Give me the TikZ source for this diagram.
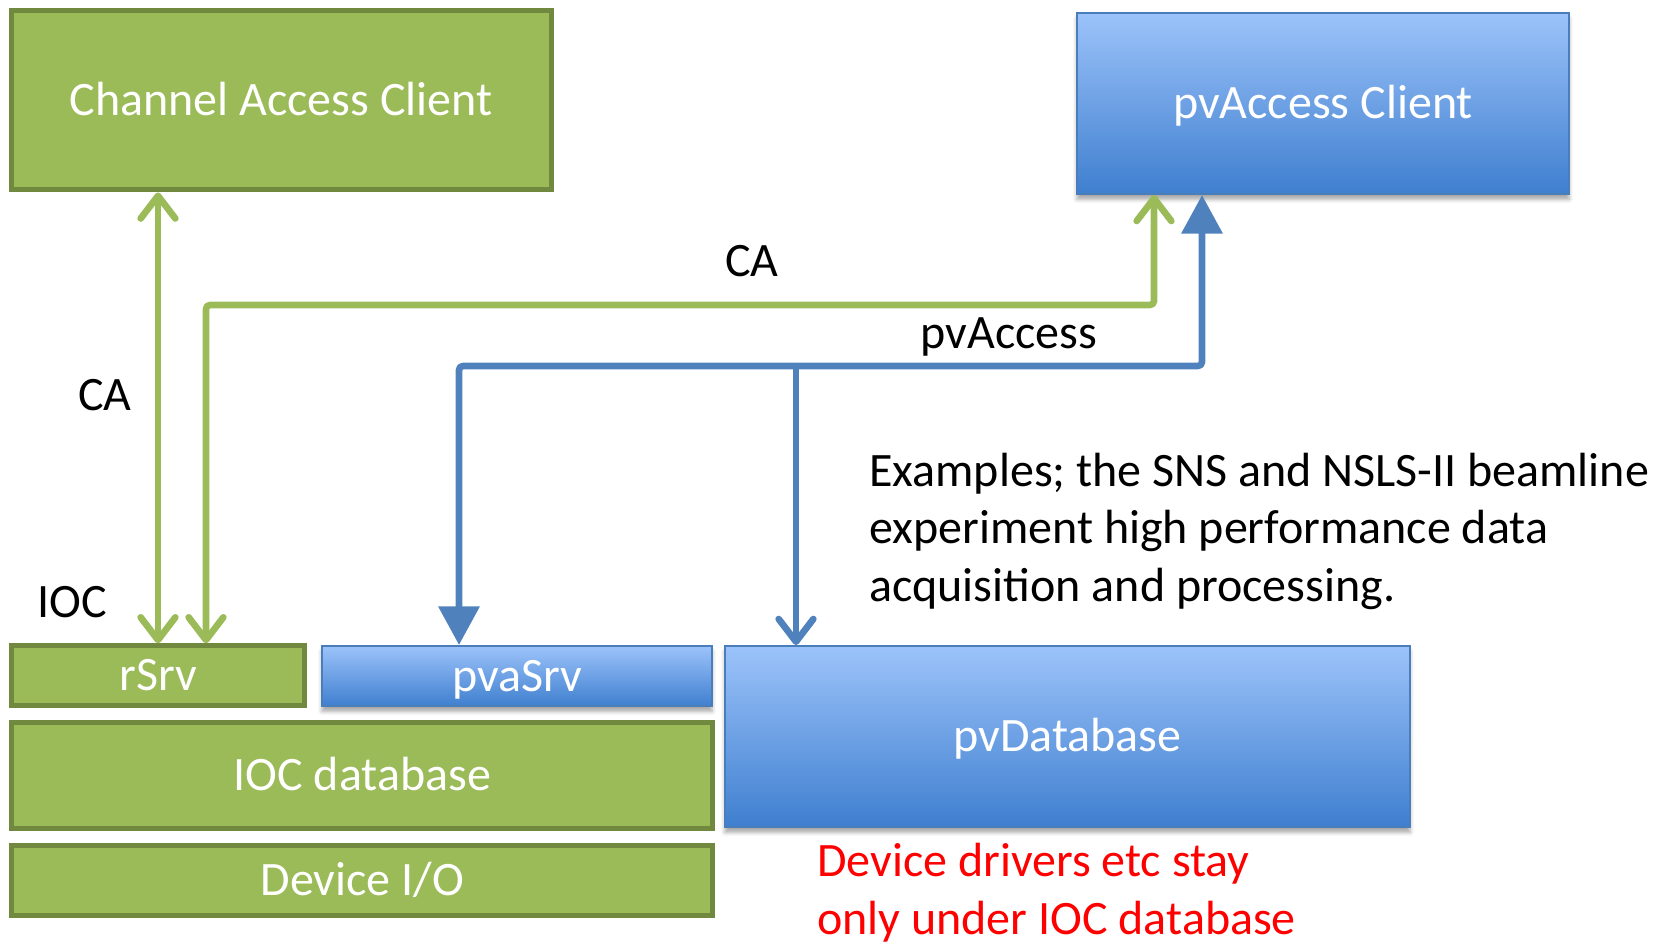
\documentclass[tikz,border=0pt]{standalone}
\usepackage{fontspec}
\setmainfont{Carlito}
\usetikzlibrary{arrows.meta,shadows.blur,calc}
\definecolor{gfill}{HTML}{9BBB59}
\definecolor{gedge}{HTML}{71893F}
\definecolor{btop}{HTML}{9CC3FA}
\definecolor{bbot}{HTML}{3F7FCF}
\definecolor{bedge}{HTML}{4A7EBB}
\definecolor{barrow}{HTML}{4F81BD}
\begin{document}
\begin{tikzpicture}[x=0.75pt,y=-0.75pt,
  every node/.style={font=\fontsize{36}{43}\selectfont, inner sep=0pt},
  boxtext/.style={text=white, inner sep=0pt, text height=23.2pt, text depth=0pt},
  gbox/.style={boxtext, draw=gedge, line width=3.75pt, fill=gfill},
  bbox/.style={boxtext, draw=bedge, line width=1.5pt, top color=btop, bottom color=bbot,
    blur shadow={shadow xshift=0pt, shadow yshift=-4pt, shadow blur radius=3pt, shadow opacity=35}},
  gbarb/.tip={Straight Barb[length=17pt,width=26pt,round]},
  btri/.tip={Triangle[length=29pt,width=30pt]},
  garr/.style={draw=gfill, line width=5pt, line join=round, rounded corners=3pt},
  barr/.style={draw=barrow, line width=5pt, line join=round, rounded corners=3pt},
  lbl/.style={text=black}]
\useasboundingbox (0,0) rectangle (1665,945);

% boxes
\node[gbox, minimum width=405pt, minimum height=134.6pt] (cac) at (281,100.25) {Channel Access Client};
\node[bbox, minimum width=369pt, minimum height=135.75pt] (pac) at (1323,103.5) {pvAccess Client};
\node[gbox, minimum width=220pt, minimum height=44.5pt] (rsrv) at (158.25,675.5) {rSrv};
\node[bbox, minimum width=292.5pt, minimum height=45pt] (pvasrv) at (517,676) {pvaSrv};
\node[gbox, minimum width=526pt, minimum height=79pt] (iocdb) at (362.25,775.5) {IOC database};
\node[gbox, minimum width=526pt, minimum height=52.5pt] (devio) at (362.25,880) {Device I/O};
\node[bbox, minimum width=513.75pt, minimum height=135.75pt] (pvdb) at (1067.5,736.5) {pvDatabase};

% routing points
\coordinate (xa) at (158,0);
\coordinate (xb) at (206,305);
\coordinate (xc) at (1154,305);
\coordinate (xd) at (1202,366);
\coordinate (xe) at (459,366);
\coordinate (xf) at (796,366);

% connectors
\draw[garr, {gbarb}-{gbarb}] (xa |- cac.south) -- (xa |- rsrv.north);
\draw[garr, {gbarb}-{gbarb}] (xc |- pac.south) -- (xc) -- (xb) -- (xb |- rsrv.north);
\draw[barr, {btri}-{btri}] (xd |- pac.south) -- (xd) -- (xe) -- (xe |- pvasrv.north);
\draw[barr, -{gbarb}] (xf) -- (xf |- pvdb.north);

% labels
\node[lbl, anchor=base] (lca1) at (752,276) {CA};
\node[lbl, anchor=base] (lca2) at (105,410) {CA};
\node[lbl, anchor=base] (lpva) at (1009,348) {pvAccess};
\node[lbl, anchor=base] (lioc) at (72,617) {IOC};
\node[lbl, anchor=base west, align=left] (lex) at (869,601) {Examples; the SNS and NSLS-II beamline\\experiment high performance data\\acquisition and processing.};
\node[text=red, anchor=base west, align=left] (lred) at (817,934) {Device drivers etc stay\\only under IOC database};
\end{tikzpicture}
\end{document}
